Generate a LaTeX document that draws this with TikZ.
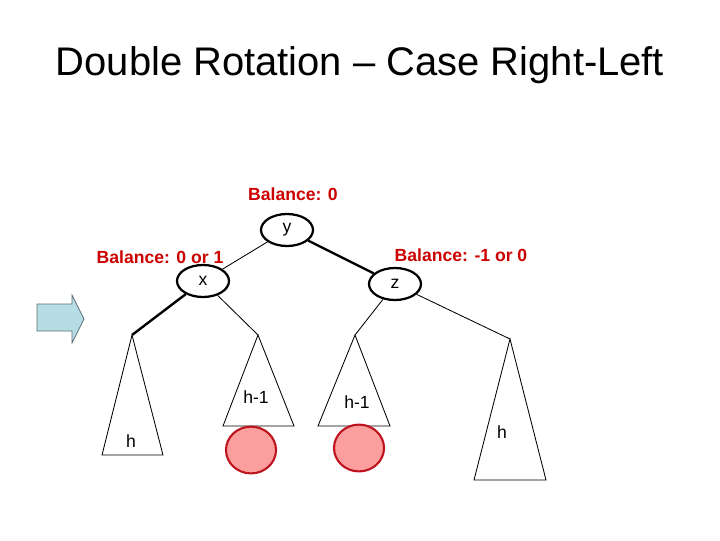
\documentclass[tikz,border=0pt]{standalone}
\usepackage{fontspec}
\setmainfont{Liberation Sans}
\usetikzlibrary{shapes.geometric}
\definecolor{colBal}{RGB}{204,0,0}
\definecolor{colBulle}{RGB}{250,158,158}
\definecolor{colBord}{RGB}{190,20,30}
\definecolor{colFleche}{RGB}{183,221,228}
\definecolor{colContour}{RGB}{90,110,120}

\begin{document}
\begin{tikzpicture}[x=0.025cm, y=-0.025cm,
    nd/.style={ellipse, draw, line width=1.6pt, minimum width=1.3cm,
      minimum height=0.8cm, inner sep=0pt, font=\fontsize{12.5}{13}\selectfont},
    bal/.style={text=colBal, inner sep=0pt,
      font=\fontsize{12.5}{14}\selectfont\bfseries},
    hgt/.style={inner sep=0pt, font=\fontsize{12.5}{14}\selectfont},
    bulle/.style={ellipse, draw=colBord, line width=1.5pt, fill=colBulle,
      minimum width=1.25cm, minimum height=1.17cm, inner sep=0pt},
    sub/.style={draw, line width=0.6pt},
    fin/.style={line width=0.6pt},
    gras/.style={line width=1.7pt}]
  \useasboundingbox (0,0) rectangle (720,540);
  \node[font=\fontsize{28.4}{32}\selectfont] (titre) at (360,65)
    {Double Rotation -- Case Right-Left};
  \draw[fill=colFleche, draw=colContour, line width=0.5pt]
    (37,304) -- (72,304) -- (72,295) -- (84,319) -- (72,343) -- (72,331)
    -- (37,331) -- cycle;
  \node[nd] (y) at (287,230) {y};
  \node[nd] (x) at (203,281) {x};
  \node[nd] (z) at (395,284) {z};
  \node[bal] (by) at (293,194) {Balance: 0};
  \node[bal] (bx) at (160,257) {Balance: 0 or 1};
  \node[bal] (bz) at (461,255) {Balance: -1 or 0};
  \coordinate (tA) at (132,335);
  \coordinate (tB) at (258,335);
  \coordinate (tC) at (355,335);
  \coordinate (tD) at (510,339);
  \draw[sub] (tA) -- (102,455) -- (163,455) -- cycle;
  \draw[sub] (tB) -- (223,426) -- (294,426) -- cycle;
  \draw[sub] (tC) -- (318,426) -- (390,426) -- cycle;
  \draw[sub] (tD) -- (474,480) -- (546,480) -- cycle;
  \node[hgt] (hA) at (131,441) {h};
  \node[hgt] (hB) at (256,397) {h-1};
  \node[hgt] (hC) at (357,402) {h-1};
  \node[hgt] (hD) at (502,432) {h};
  \node[bulle] (cB) at (251,450) {};
  \node[bulle] (cC) at (359,448) {};
  \draw[fin] (y) -- (x);
  \draw[gras] (y) -- (z);
  \draw[gras] (x) -- (tA);
  \draw[fin] (x) -- (tB);
  \draw[fin] (z) -- (tC);
  \draw[fin] (z) -- (tD);
\end{tikzpicture}
\end{document}
